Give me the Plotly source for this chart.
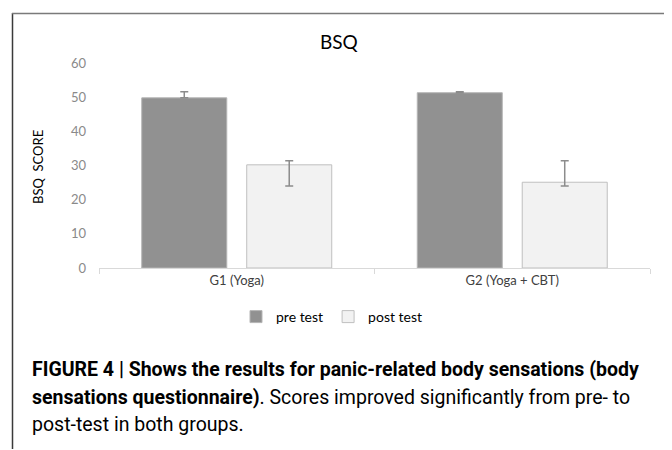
import plotly.graph_objects as go

categories = ["G1 (Yoga)", "G2 (Yoga + CBT)"]
pre_values = [49.8, 51.3]
pre_err_plus = [1.8, 0.3]
pre_err_minus = [0.0, 0.0]
post_values = [30.2, 25.1]
post_err_plus = [1.2, 6.3]
post_err_minus = [6.2, 1.1]
y_ticks = [0, 10, 20, 30, 40, 50, 60]

# page offset (browser default body margin)
OFF = 8
W, H = 672 - OFF, 450 - OFF
# plot area in reference pixels: x 99..650, y 63..268
PL, PR, PT, PB = 99 - OFF, 650 - OFF, 63 - OFF, 268 - OFF
L, R, T, B = PL, W - PR, PT, H - PB
PW, PH = PR - PL, PB - PT


def px(x):
    return (x - OFF - L) / PW


def py(y):
    return (PB - (y - OFF)) / PH


fig = go.Figure()
fig.add_trace(go.Bar(
    x=categories, y=pre_values, name="pre test",
    marker=dict(color="#919191", line=dict(color="#b5b5b5", width=1)),
    error_y=dict(type="data", symmetric=False, array=pre_err_plus, arrayminus=pre_err_minus,
                 color="#8c8c8c", thickness=1.5, width=4),
))
fig.add_trace(go.Bar(
    x=categories, y=post_values, name="post test",
    marker=dict(color="#f2f2f2", line=dict(color="#bfbfbf", width=1)),
    error_y=dict(type="data", symmetric=False, array=post_err_plus, arrayminus=post_err_minus,
                 color="#8c8c8c", thickness=1.5, width=4),
))

base_font = "Lato, Open Sans, sans-serif"
cap_font = "Roboto, Arial, sans-serif"
cap_size = 19.5

annotations = [
    dict(text="BSQ", x=px(339), y=py(42), xref="paper", yref="paper", showarrow=False,
         xanchor="center", yanchor="middle", font=dict(family=base_font, size=19, color="#000")),
    dict(text="BSQ  SCORE", x=px(38), y=py(167), xref="paper", yref="paper", showarrow=False,
         textangle=-90, xanchor="center", yanchor="middle", font=dict(family=base_font, size=13, color="#000")),
    dict(text="<b>FIGURE 4 | Shows the results for panic-related body sensations (body</b>",
         x=px(30), y=py(369), xref="paper", yref="paper", showarrow=False,
         xanchor="left", yanchor="middle", font=dict(family=cap_font, size=cap_size, color="#000")),
    dict(text="<b>sensations questionnaire)</b>. Scores improved significantly from pre- to",
         x=px(30), y=py(397), xref="paper", yref="paper", showarrow=False,
         xanchor="left", yanchor="middle", font=dict(family=cap_font, size=cap_size, color="#000")),
    dict(text="post-test in both groups.",
         x=px(30), y=py(424), xref="paper", yref="paper", showarrow=False,
         xanchor="left", yanchor="middle", font=dict(family=cap_font, size=cap_size, color="#000")),
]

shapes = [
    dict(type="line", xref="paper", yref="paper", x0=px(12.5), x1=px(12.5), y0=py(13), y1=py(449),
         line=dict(color="#3a3a3a", width=1.5), layer="above"),
    dict(type="line", xref="paper", yref="paper", x0=px(12), x1=px(668), y0=py(13.5), y1=py(13.5),
         line=dict(color="#7a7a7a", width=1.5), layer="above"),
    dict(type="line", xref="paper", yref="paper", x0=px(667.5), x1=px(667.5), y0=py(13), y1=py(449),
         line=dict(color="#3a3a3a", width=1.5), layer="above"),
]

fig.update_layout(
    width=W, height=H,
    margin=dict(l=L, r=R, t=T, b=B, pad=0),
    paper_bgcolor="white", plot_bgcolor="white",
    barmode="group", bargap=0.238, bargroupgap=0.19,
    showlegend=True,
    legend=dict(orientation="h", x=px(332), y=py(317), xanchor="center", yanchor="middle",
                font=dict(family=base_font, size=14, color="#000"), traceorder="normal",
                itemwidth=30, bgcolor="rgba(0,0,0,0)"),
    annotations=annotations,
    shapes=shapes,
    font=dict(family=base_font),
)
fig.update_yaxes(range=[0, 60], tickvals=y_ticks, showgrid=False, zeroline=False, showline=False,
                 tickfont=dict(family=base_font, size=13, color="#8a8a8a"), ticks="", ticklabelstandoff=12)
fig.update_xaxes(showline=True, linecolor="#d9d9d9", linewidth=1, ticks="outside", tickson="boundaries",
                 ticklen=5, tickcolor="#d9d9d9", showgrid=False,
                 tickfont=dict(family=base_font, size=13, color="#404040"))

fig.write_html("out.html")
